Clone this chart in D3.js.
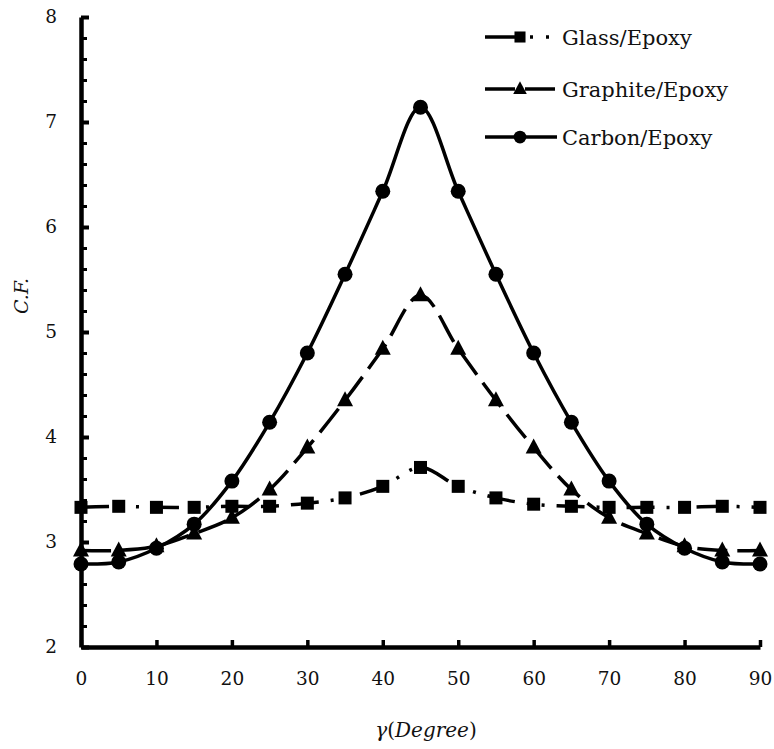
<!DOCTYPE html>
<html>
<head>
<meta charset="utf-8">
<script src="https://cdn.jsdelivr.net/npm/d3@7"></script>
<style>
  body { margin: 0; background: #fff; }
  svg text { font-family: 'DejaVu Serif', serif; fill: #111; }
</style>
</head>
<body>
<svg id="chart" width="774" height="749"></svg>
<script>
// angle values (degrees)
var angles = [0, 5, 10, 15, 20, 25, 30, 35, 40, 45, 50, 55, 60, 65, 70, 75, 80, 85, 90];

// C.F. values
var glassEpoxy = [3.33, 3.34, 3.33, 3.33, 3.34, 3.34, 3.37, 3.42, 3.53, 3.71,
  3.53, 3.42, 3.36, 3.34, 3.33, 3.33, 3.33, 3.34, 3.33];
var graphiteEpoxy = [2.92, 2.92, 2.96, 3.08, 3.23, 3.50, 3.90, 4.35, 4.84, 5.35,
  4.84, 4.35, 3.90, 3.50, 3.23, 3.08, 2.96, 2.92, 2.92];
var carbonEpoxy = [2.79, 2.81, 2.94, 3.17, 3.58, 4.14, 4.80, 5.55, 6.34, 7.14,
  6.34, 5.55, 4.80, 4.14, 3.58, 3.17, 2.94, 2.81, 2.79];

var xTicks = [0, 10, 20, 30, 40, 50, 60, 70, 80, 90];
var yTicks = [2, 3, 4, 5, 6, 7, 8];

var seriesNames = ['Glass/Epoxy', 'Graphite/Epoxy', 'Carbon/Epoxy'];

(function () {
  "use strict";

  var FONT = "'DejaVu Serif', serif";

  var margin = { top: 17, right: 14, bottom: 102, left: 81 },
    width = 774 - margin.left - margin.right,
    height = 749 - margin.top - margin.bottom;

  var svg = d3.select('#chart');
  var g = svg.append('g')
    .attr('transform', 'translate(' + margin.left + ',' + margin.top + ')');

  var x = d3.scaleLinear().domain([0, 90]).range([0, width]);
  var y = d3.scaleLinear().domain([2, 8]).range([height, 0]);

  // styles per series (legend dash differs a bit, like in the figure)
  var styles = [
    { values: glassEpoxy, dash: '28,12,3,12,3,12', legendDash: '30,15,3,13,3,40', marker: 'square' },
    { values: graphiteEpoxy, dash: '30,10', legendDash: '30,10', marker: 'triangle' },
    { values: carbonEpoxy, dash: null, legendDash: null, marker: 'circle' }
  ];

  var line = d3.line()
    .x(function (d) { return x(d.a); })
    .y(function (d) { return y(d.v); })
    .curve(d3.curveCatmullRom.alpha(0.5));

  function drawMarker(sel, kind, cx, cy, k) {
    k = k || 1;
    if (kind === 'circle') {
      sel.append('circle').attr('cx', cx).attr('cy', cy).attr('r', 7.5 * k).attr('fill', '#000');
    } else if (kind === 'square') {
      sel.append('rect').attr('x', cx - 6.5 * k).attr('y', cy - 6.5 * k)
        .attr('width', 13 * k).attr('height', 13 * k).attr('fill', '#000');
    } else {
      sel.append('path')
        .attr('d', 'M' + cx + ',' + (cy - 9 * k) + 'L' + (cx + 8 * k) + ',' + (cy + 6 * k) +
          'L' + (cx - 8 * k) + ',' + (cy + 6 * k) + 'Z')
        .attr('fill', '#000');
    }
  }

  // series lines + markers
  styles.forEach(function (s, i) {
    var data = angles.map(function (a, k) { return { a: a, v: s.values[k] }; });
    var grp = g.append('g').attr('class', 'series-' + i);
    grp.append('path')
      .datum(data)
      .attr('d', line)
      .attr('fill', 'none')
      .attr('stroke', '#000')
      .attr('stroke-width', 3.5)
      .attr('stroke-dasharray', s.dash);
    data.forEach(function (d) {
      drawMarker(grp, s.marker, x(d.a), y(d.v));
    });
  });

  // axes
  var yMinor = d3.range(2, 8.001, 0.2).filter(function (v) {
    return Math.abs(v - Math.round(v)) > 0.01;
  });

  g.append('g')
    .attr('class', 'y-minor')
    .call(d3.axisLeft(y).tickValues(yMinor).tickSizeInner(-6).tickSizeOuter(0).tickFormat(''))
    .call(function (a) {
      a.select('.domain').remove();
      a.selectAll('line').attr('stroke', '#000').attr('stroke-width', 3);
    });

  g.append('g')
    .attr('class', 'y-axis')
    .call(d3.axisLeft(y).tickValues(yTicks).tickSizeInner(-8).tickSizeOuter(0).tickPadding(24).tickFormat(d3.format('d')))
    .call(function (a) {
      a.attr('font-family', null);
      a.select('.domain').attr('stroke', '#000').attr('stroke-width', 4.5);
      a.selectAll('line').attr('stroke', '#000').attr('stroke-width', 4);
      a.selectAll('text').style('font-size', '18.5px').style('font-family', FONT);
    });

  g.append('g')
    .attr('class', 'x-axis')
    .attr('transform', 'translate(0,' + height + ')')
    .call(d3.axisBottom(x).tickValues(xTicks).tickSizeInner(-7).tickSizeOuter(0).tickPadding(25))
    .call(function (a) {
      a.attr('font-family', null);
      a.select('.domain').attr('stroke', '#000').attr('stroke-width', 4.5);
      a.selectAll('line').attr('stroke', '#000').attr('stroke-width', 3.5);
      a.selectAll('text').style('font-size', '18.5px').style('font-family', FONT);
    });

  // axis titles
  svg.append('text')
    .attr('transform', 'translate(28,296) rotate(-90)')
    .attr('text-anchor', 'middle')
    .style('font-family', FONT)
    .style('font-size', '19px')
    .style('font-style', 'italic')
    .text('C.F.');

  var xt = svg.append('text')
    .attr('x', 426)
    .attr('y', 737)
    .attr('text-anchor', 'middle')
    .style('font-family', FONT)
    .style('font-size', '20px');
  xt.append('tspan').style('font-style', 'italic').text('γ');
  xt.append('tspan').text('(');
  xt.append('tspan').style('font-style', 'italic').text('Degree');
  xt.append('tspan').text(')');

  // legend
  var legendRows = [37, 89, 137];
  var legend = svg.append('g').attr('class', 'legend');
  styles.forEach(function (s, i) {
    var ly = legendRows[i];
    var row = legend.append('g');
    row.append('line')
      .attr('x1', 485).attr('x2', 557)
      .attr('y1', ly).attr('y2', ly)
      .attr('stroke', '#000')
      .attr('stroke-width', 3.5)
      .attr('stroke-dasharray', s.legendDash);
    drawMarker(row, s.marker, 520, ly, 0.85);
    row.append('text')
      .attr('x', 562)
      .attr('y', ly)
      .attr('dy', '0.36em')
      .style('font-family', FONT)
      .style('font-size', '21px')
      .text(seriesNames[i]);
  });
}());
</script>
</body>
</html>
